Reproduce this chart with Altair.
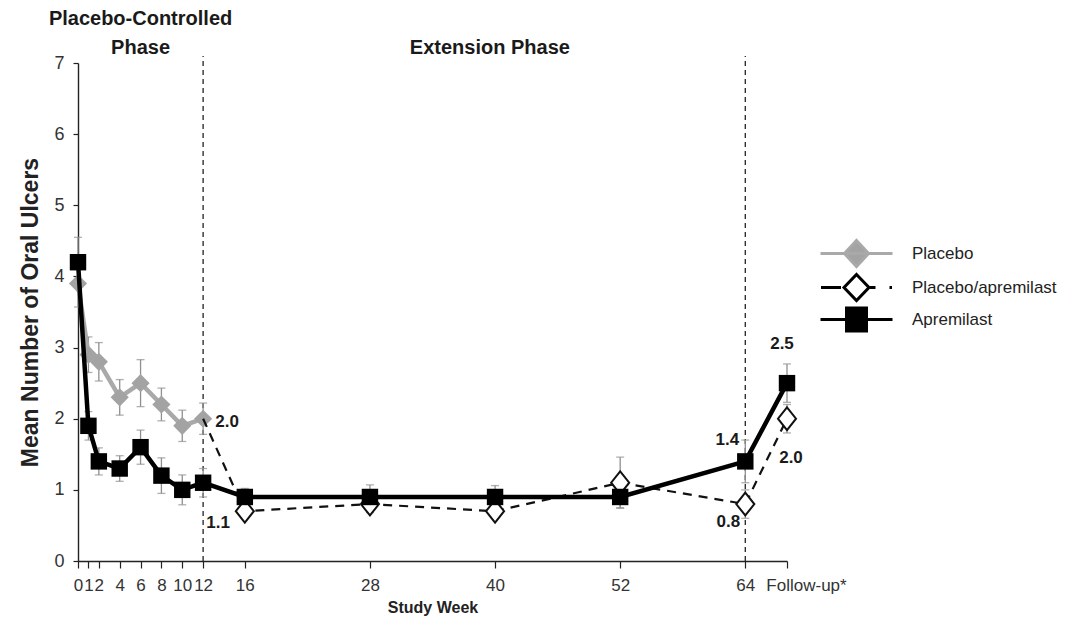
import altair as alt
import pandas as pd

# ---------------- data ----------------
series_names = ["Placebo", "Placebo/apremilast", "Apremilast"]

pbo_weeks = [0, 1, 2, 4, 6, 8, 10, 12]
pbo_mean = [3.9, 2.9, 2.8, 2.3, 2.5, 2.2, 1.9, 2.0]
pbo_err = [0.33, 0.25, 0.27, 0.25, 0.33, 0.23, 0.22, 0.22]

apr_weeks = [0, 1, 2, 4, 6, 8, 10, 12, 16, 28, 40, 52, 64, 68]
apr_mean = [4.2, 1.9, 1.4, 1.3, 1.6, 1.2, 1.0, 1.1, 0.9, 0.9, 0.9, 0.9, 1.4, 2.5]
apr_err = [0.35, 0.2, 0.19, 0.18, 0.24, 0.25, 0.21, 0.2, 0.12, 0.17, 0.16, 0.15, 0.3, 0.27]

pa_weeks = [12, 16, 28, 40, 52, 64, 68]
pa_mean = [2.0, 0.7, 0.8, 0.7, 1.1, 0.8, 2.0]
pa_err = [0.0, 0.1, 0.12, 0.1, 0.36, 0.2, 0.2]

tick_weeks = [0, 1, 2, 4, 6, 8, 10, 12, 16, 28, 40, 52, 64, 68]
tick_labels = ["0", "1", "2", "4", "6", "8", "10", "12", "16", "28", "40", "52", "64", "Follow-up*"]
y_ticks = [0, 1, 2, 3, 4, 5, 6, 7]

phase_weeks = [12, 64]
phase_top = 7.1

header_text = ["Placebo-Controlled\nPhase", "Extension Phase"]
header_weeks = [6, 39.5]

value_label_weeks = [12, 12, 64, 64, 68, 68]
value_label_means = [2.0, 1.1, 1.4, 0.8, 2.5, 2.0]
value_label_text = ["2.0", "1.1", "1.4", "0.8", "2.5", "2.0"]

# ---------------- styling ----------------
FONT = "Liberation Sans, Arial, sans-serif"
GRAY_LINE = "#a9a9a9"
GRAY_FILL = "#a3a3a3"
ERR_COLOR = "#8f8f8f"

WHITE_DIAMOND = "M0,-1.2L0.95,0L0,1.2L-0.95,0Z"

# legend symbols (custom paths: line stubs + marker)
leg_placebo = "M-3.6,0L3.6,0M0,-1.3L1.2,0L0,1.3L-1.2,0Z"
leg_pa = "M-3.55,0L-1.55,0M1.35,0L1.9,0M3.3,0L3.55,0M0,-1.3L1.25,0L0,1.3L-1.25,0Z"
leg_apr = "M-3.6,0L3.6,0M-1.0,-1.15L1.0,-1.15L1.0,1.15L-1.0,1.15Z"

xscale = alt.Scale(domain=[0, 68], nice=False, zero=False)
yscale = alt.Scale(domain=[0, 7], nice=False)

label_expr = "".join(
    f"datum.value == {w} ? '{l}' : " for w, l in zip(tick_weeks, tick_labels)
) + "datum.label"
last_week = tick_weeks[-1]

xaxis = alt.Axis(
    values=tick_weeks, labelExpr=label_expr, title="Study Week",
    labelOverlap=False, labelFlush=False, grid=False,
    labelOffset={"condition": {"test": f"datum.value == {last_week}", "value": 19}, "value": 0},
    tickSize=7, labelPadding=9, titlePadding=6,
    labelFont=FONT, labelFontSize=17, labelColor="#333333",
    titleFont=FONT, titleFontSize=16, titleFontWeight="bold", titleColor="#222222",
    domainColor="#222222", tickColor="#222222", domainWidth=1.4, tickWidth=1.2,
)
yaxis = alt.Axis(
    values=y_ticks, format="d", title="Mean Number of Oral Ulcers", grid=False,
    tickSize=5, labelPadding=9, titlePadding=11,
    labelFont=FONT, labelFontSize=18, labelColor="#333333",
    titleFont=FONT, titleFontSize=23, titleFontWeight="bold", titleColor="#222222",
    domainColor="#222222", tickColor="#222222", domainWidth=1.4, tickWidth=1.2,
)


def frame(weeks, means, errs):
    return pd.DataFrame({"week": weeks, "mean": means, "err": errs})


pbo_df = frame(pbo_weeks, pbo_mean, pbo_err)
apr_df = frame(apr_weeks, apr_mean, apr_err)
pa_df = frame(pa_weeks, pa_mean, pa_err)
err_df = pd.concat([pbo_df, apr_df, pa_df[pa_df["week"] > 12]], ignore_index=True)

X = alt.X("week:Q", scale=xscale, axis=xaxis)
Y = alt.Y("mean:Q", scale=yscale, axis=yaxis)

# phase separators
phase_df = pd.DataFrame({"week": phase_weeks, "lo": [0] * len(phase_weeks), "hi": [phase_top] * len(phase_weeks)})
phase = alt.Chart(phase_df).mark_rule(color="#222222", strokeWidth=1.3, strokeDash=[5, 4]).encode(
    x=alt.X("week:Q", scale=xscale), y=alt.Y("lo:Q", scale=yscale), y2="hi:Q"
)

# error bars
err_base = alt.Chart(err_df).transform_calculate(
    lo="datum.mean - datum.err", hi="datum.mean + datum.err"
).transform_filter("datum.err > 0")
err_rule = err_base.mark_rule(color=ERR_COLOR, strokeWidth=1.3).encode(
    x=alt.X("week:Q", scale=xscale), y=alt.Y("lo:Q", scale=yscale), y2="hi:Q"
)
err_cap_hi = err_base.mark_tick(color=ERR_COLOR, orient="horizontal", size=8, thickness=1.3).encode(
    x=alt.X("week:Q", scale=xscale), y=alt.Y("hi:Q", scale=yscale)
)
err_cap_lo = err_base.mark_tick(color=ERR_COLOR, orient="horizontal", size=8, thickness=1.3).encode(
    x=alt.X("week:Q", scale=xscale), y=alt.Y("lo:Q", scale=yscale)
)

# placebo
pbo_line = alt.Chart(pbo_df).mark_line(color=GRAY_LINE, strokeWidth=4.5).encode(x=X, y=Y)
pbo_pts = alt.Chart(pbo_df).mark_point(
    shape="diamond", filled=True, fill=GRAY_FILL, color=GRAY_FILL, size=330, opacity=1
).encode(x=X, y=Y)

# placebo/apremilast
pa_line = alt.Chart(pa_df).mark_line(color="#111111", strokeWidth=2.2, strokeDash=[9, 7]).encode(x=X, y=Y)
pa_pts = alt.Chart(pa_df).transform_filter("datum.week > 12").mark_point(
    shape=WHITE_DIAMOND, filled=True, fill="white", stroke="#111111", strokeWidth=2, size=361, opacity=1
).encode(x=X, y=Y)

# apremilast
apr_line = alt.Chart(apr_df).mark_line(color="#000000", strokeWidth=4.5).encode(x=X, y=Y)
apr_pts = alt.Chart(apr_df).mark_point(
    shape="square", filled=True, fill="#000000", color="#000000", size=270, opacity=1
).encode(x=X, y=Y)

# value labels
vl_df = pd.DataFrame({"week": value_label_weeks, "mean": value_label_means, "text": value_label_text})
offsets = [(24, 3), (15, 40), (-18, -21), (-17, 18), (-5, -39), (4, 39)]
value_labels = []
for i, (dx, dy) in enumerate(offsets):
    value_labels.append(
        alt.Chart(vl_df.iloc[[i]]).mark_text(
            font=FONT, fontSize=17, fontWeight="bold", color="#1a1a1a",
            dx=dx, dy=dy, align="center", baseline="middle",
        ).encode(x=alt.X("week:Q", scale=xscale), y=alt.Y("mean:Q", scale=yscale), text="text:N")
    )

# phase headers
head_df = pd.DataFrame({"week": header_weeks, "text": header_text})
head_style = dict(font=FONT, fontSize=20, fontWeight="bold", color="#1a1a1a",
                  align="center", baseline="bottom", lineBreak="\n", lineHeight=29)
header_left = alt.Chart(head_df.iloc[[0]]).mark_text(**head_style).encode(
    x=alt.X("week:Q", scale=xscale), y=alt.value(-34), text="text:N")
header_right = alt.Chart(head_df.iloc[[1]]).mark_text(**head_style).encode(
    x=alt.X("week:Q", scale=xscale), y=alt.value(-5), text="text:N")

# legend (scale-driven, no marks drawn)
leg_df = pd.DataFrame({"series": series_names})
legend_layer = alt.Chart(leg_df).transform_filter("false").mark_point(filled=True, opacity=1).encode(
    shape=alt.Shape("series:N", scale=alt.Scale(domain=series_names, range=[leg_placebo, leg_pa, leg_apr]), title=None),
    fill=alt.Fill("series:N", scale=alt.Scale(domain=series_names, range=[GRAY_FILL, "white", "#000000"]), title=None),
    stroke=alt.Stroke("series:N", scale=alt.Scale(domain=series_names, range=[GRAY_LINE, "#000000", "#000000"]), title=None),
)

chart = alt.layer(
    phase, err_rule, err_cap_hi, err_cap_lo,
    pbo_line, pbo_pts, pa_line, apr_line, pa_pts, apr_pts,
    *value_labels, header_left, header_right, legend_layer,
).properties(
    width=709, height=498,
    autosize=alt.AutoSizeParams(type="none"),
    padding={"left": 78, "top": 63, "right": 294, "bottom": 70},
    background="white",
).configure_view(stroke=None).configure_legend(
    orient="none", legendX=767, legendY=179,
    symbolSize=400, symbolStrokeWidth=3, labelOffset=44,
    labelFont=FONT, labelFontSize=17, labelColor="#222222", labelLimit=300,
    rowPadding=-5, padding=0,
)

chart.save("out.html", embed_options={"renderer": "svg", "actions": False})
